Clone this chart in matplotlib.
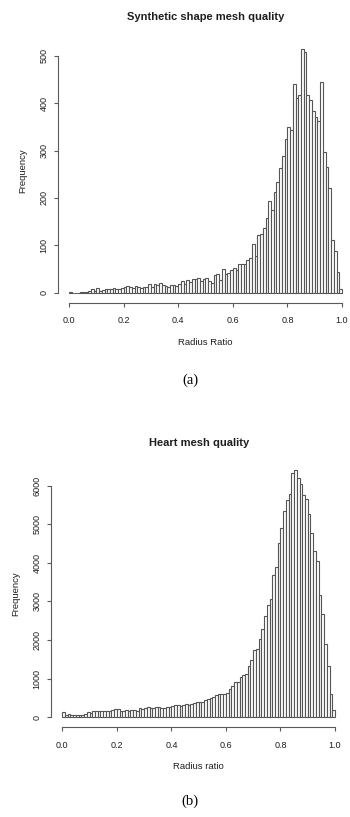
import numpy as np
import matplotlib
matplotlib.use("Agg")
import matplotlib.pyplot as plt

plt.rcParams['font.family'] = ['Liberation Sans', 'DejaVu Sans']

# histogram bin edges: 100 bins of width 0.01 on [0, 1]
edges = np.linspace(0, 1, 101)

synthetic_counts = [
    2, 0, 0, 0, 1, 1, 2, 3, 8, 4, 10, 3, 5, 8, 8, 7, 10, 8, 7, 10,
    13, 14, 13, 10, 15, 12, 10, 12, 12, 19, 12, 18, 16, 20, 17, 15, 13, 16, 16, 15,
    18, 24, 19, 27, 22, 29, 29, 31, 25, 30, 31, 24, 20, 37, 40, 26, 51, 40, 42, 47,
    52, 49, 61, 61, 61, 70, 74, 103, 77, 121, 125, 137, 158, 194, 174, 212, 233, 263, 288, 325,
    349, 343, 440, 412, 417, 515, 508, 417, 406, 384, 370, 362, 444, 297, 265, 221, 112, 89, 44, 7]

heart_counts = [
    130, 45, 70, 65, 55, 55, 60, 65, 90, 120, 100, 160, 155, 165, 160, 155, 150, 165, 195, 210,
    205, 160, 165, 175, 165, 175, 185, 150, 240, 220, 240, 255, 245, 245, 260, 255, 230, 240, 255, 275,
    290, 310, 310, 290, 325, 335, 320, 350, 370, 380, 390, 380, 440, 480, 500, 520, 570, 590, 605, 610,
    635, 720, 805, 920, 920, 1035, 1080, 1115, 1315, 1490, 1735, 1755, 2020, 2280, 2620, 2900, 3070, 3685, 3900, 4520,
    4910, 5350, 5630, 5790, 6315, 6400, 6185, 6050, 5745, 5660, 5260, 4780, 4300, 4035, 3160, 2675, 1885, 1315, 600, 175]

x_ticks = [0.0, 0.2, 0.4, 0.6, 0.8, 1.0]
syn_yticks = [0, 100, 200, 300, 400, 500]
heart_yticks = [0, 1000, 2000, 3000, 4000, 5000, 6000]

W, H = 350, 817
fig = plt.figure(figsize=(W / 100, H / 100), dpi=100)

axcol = "#5a5a5a"
txtcol = "#1e1e1e"


def px_axes(left, right, top, bottom):
    return fig.add_axes([left / W, 1 - bottom / H, (right - left) / W, (bottom - top) / H])


def r_hist(ax, counts, yticks, ylim, title, xlabel, title_pad):
    ax.bar(edges[:-1], counts, width=np.diff(edges), align="edge",
           color="white", edgecolor="#555555", linewidth=0.8)
    ax.set_xlim(-0.04, 1.04)
    ax.set_ylim(*ylim)
    for s in ("top", "right"):
        ax.spines[s].set_visible(False)
    for s in ("left", "bottom"):
        ax.spines[s].set_color(axcol)
        ax.spines[s].set_linewidth(0.8)
    ax.spines["left"].set_bounds(yticks[0], yticks[-1])
    ax.spines["bottom"].set_bounds(0, 1)
    ax.set_xticks(x_ticks)
    ax.set_xticklabels([f"{t:.1f}" for t in x_ticks])
    ax.set_yticks(yticks)
    ax.set_yticklabels([str(t) for t in yticks], rotation=90, va="center")
    ax.tick_params(length=3, width=0.8, color=axcol, labelsize=6.5, labelcolor=txtcol)
    ax.tick_params(axis="x", pad=7)
    ax.tick_params(axis="y", pad=4)
    ax.set_title(title, fontsize=8, fontweight="bold", color=txtcol, pad=title_pad)
    ax.set_xlabel(xlabel, fontsize=6.8, color=txtcol, labelpad=9)
    ax.set_ylabel("Frequency", fontsize=6.8, color=txtcol, labelpad=9)
    ax.patch.set_alpha(0)


# (a) synthetic shapes
ax1 = px_axes(58.1, 352.9, 39.0, 302.5)
r_hist(ax1, synthetic_counts, syn_yticks, (-20.6, 535.6),
       "Synthetic shape mesh quality", "Radius Ratio", 13.5)
fig.text(190 / W, 1 - 380 / H, "(a)", ha="center", va="center",
         fontsize=10.5, family=["Liberation Serif", "DejaVu Serif"], color="black")

# (b) heart
ax2 = px_axes(51.4, 345.9, 460.2, 727.0)
r_hist(ax2, heart_counts, heart_yticks, (-256, 6656),
       "Heart mesh quality", "Radius ratio", 10.5)
fig.text(190 / W, 1 - 801 / H, "(b)", ha="center", va="center",
         fontsize=10.5, family=["Liberation Serif", "DejaVu Serif"], color="black")

fig.savefig("out.png", dpi=100)
